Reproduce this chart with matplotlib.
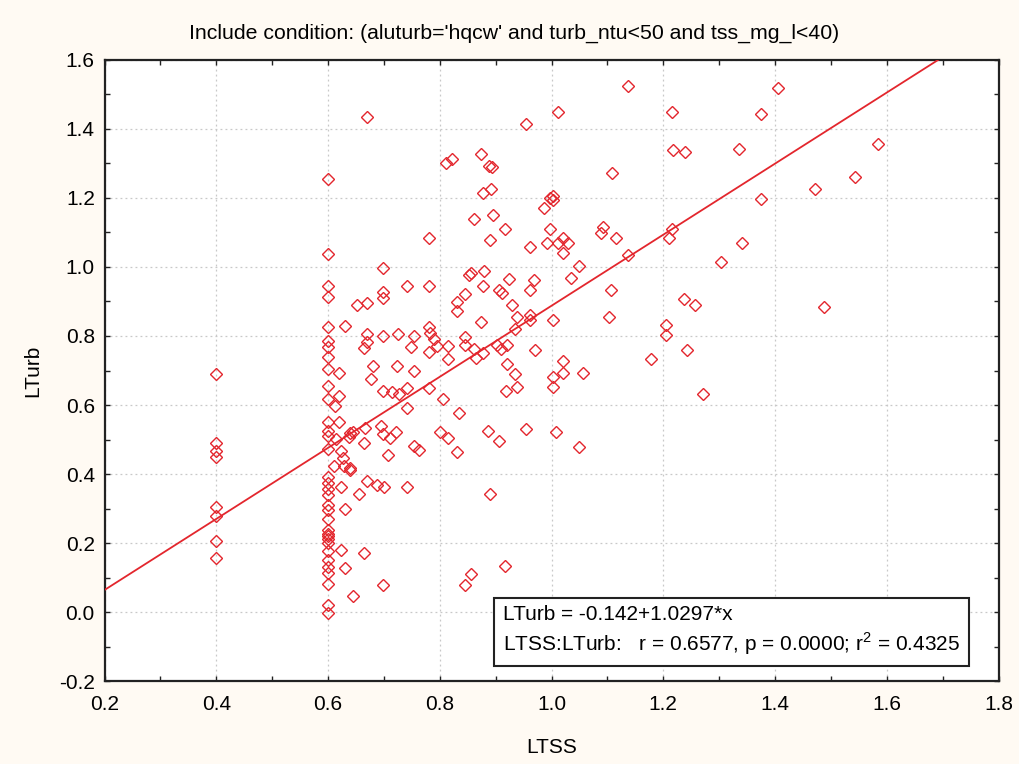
#!/usr/bin/env python3
"""
Scatterplot of LTurb against LTSS with the fitted regression line,
in the style of a STATISTICA graph window.
"""

import matplotlib
matplotlib.use("Agg")
import matplotlib.pyplot as plt
from matplotlib.ticker import MultipleLocator, FormatStrFormatter

# fitted model (from the graph legend)
INTERCEPT = -0.142
SLOPE = 1.0297

# samples sitting on the LTSS = 0.4 column
col04Tss = 0.4
col04Turb = [0.689, 0.491, 0.467, 0.448, 0.305, 0.278, 0.207, 0.156]

# samples sitting on the LTSS = 0.6 column
col06Tss = 0.6
col06Turb = [1.256, 1.039, 0.944, 0.914, 0.825, 0.786, 0.767, 0.740, 0.704,
             0.656, 0.617, 0.550, 0.526, 0.510, 0.473, 0.392, 0.373, 0.356,
             0.339, 0.310, 0.296, 0.270, 0.238, 0.226, 0.219, 0.211, 0.199,
             0.177, 0.151, 0.131, 0.112, 0.081, 0.020, -0.002]

# remaining samples
otherTss = [0.670, 0.699, 0.699, 0.699, 0.741, 0.780, 0.780, 0.652, 0.670, 0.630,
            0.619, 0.670, 0.670, 0.664, 0.699, 0.726, 0.754, 0.749, 0.780, 0.780,
            0.783, 0.789, 0.795, 0.814, 0.814, 0.680, 0.723, 0.754, 0.676,
            0.811, 0.821, 0.874, 0.888, 0.894, 0.892, 0.878,
            0.955, 0.862, 0.896, 0.917, 0.890, 0.961, 0.987, 0.998, 1.002, 0.992, 0.998,
            0.852, 0.856, 0.880, 0.924, 0.969, 0.878, 0.906, 0.912, 0.961, 0.846,
            0.830, 0.830, 0.930, 0.939, 0.961, 0.961, 0.934, 0.873, 0.846, 0.846,
            0.861, 0.865, 0.878, 0.903, 0.909, 0.921, 0.971, 0.921, 0.934,
            0.699, 0.715, 0.727, 0.741, 0.780, 0.620, 0.613, 0.741, 0.805, 0.834,
            0.918, 0.939, 0.620, 0.667, 0.694, 0.699, 0.711, 0.721, 0.664, 0.640,
            0.644, 0.637, 0.615, 0.624, 0.626, 0.610, 0.628, 0.639, 0.640, 0.708,
            0.754, 0.763, 0.801, 0.814, 0.830, 0.887, 0.906, 0.955, 0.623, 0.670,
            0.687, 0.700, 0.741, 0.655, 0.890, 0.630, 0.623, 0.664, 0.630, 0.699,
            0.644, 0.917, 0.855, 0.846,
            1.136, 1.011, 1.215, 1.406, 1.375, 1.218, 1.238, 1.335, 1.108, 1.002,
            1.375, 1.012, 1.021, 1.029, 1.021, 1.093, 1.089, 1.116, 1.136, 1.050,
            1.034, 1.215, 1.210, 1.341, 1.304, 1.106, 1.103, 1.002, 1.237, 1.256,
            1.205, 1.205, 1.243, 1.178, 1.021, 1.021, 1.056, 1.002, 1.002, 1.271,
            1.008, 1.050,
            1.585, 1.544, 1.472, 1.488]
otherTurb = [1.434, 0.997, 0.927, 0.911, 0.946, 0.946, 1.083, 0.890, 0.896, 0.830,
             0.694, 0.806, 0.784, 0.764, 0.800, 0.805, 0.800, 0.769, 0.827, 0.754,
             0.809, 0.791, 0.771, 0.771, 0.734, 0.714, 0.714, 0.698, 0.676,
             1.300, 1.312, 1.327, 1.293, 1.291, 1.226, 1.215,
             1.414, 1.139, 1.151, 1.109, 1.078, 1.058, 1.170, 1.201, 1.194, 1.069, 1.109,
             0.977, 0.983, 0.988, 0.966, 0.962, 0.946, 0.933, 0.925, 0.933, 0.921,
             0.898, 0.873, 0.891, 0.856, 0.862, 0.846, 0.821, 0.841, 0.796, 0.774,
             0.763, 0.735, 0.750, 0.774, 0.763, 0.774, 0.759, 0.719, 0.690,
             0.641, 0.639, 0.632, 0.648, 0.648, 0.627, 0.598, 0.592, 0.617, 0.576,
             0.641, 0.653, 0.552, 0.534, 0.539, 0.515, 0.503, 0.523, 0.491, 0.518,
             0.523, 0.508, 0.501, 0.468, 0.446, 0.423, 0.423, 0.418, 0.412, 0.455,
             0.481, 0.470, 0.523, 0.503, 0.465, 0.526, 0.496, 0.530, 0.363, 0.380,
             0.368, 0.363, 0.363, 0.342, 0.342, 0.298, 0.180, 0.170, 0.129, 0.078,
             0.047, 0.134, 0.110, 0.078,
             1.525, 1.448, 1.448, 1.520, 1.443, 1.338, 1.332, 1.342, 1.272, 1.207,
             1.196, 1.069, 1.085, 1.069, 1.040, 1.115, 1.098, 1.083, 1.035, 1.002,
             0.967, 1.110, 1.083, 1.069, 1.014, 0.933, 0.856, 0.846, 0.906, 0.891,
             0.831, 0.803, 0.759, 0.733, 0.728, 0.692, 0.692, 0.682, 0.653, 0.632,
             0.521, 0.479,
             1.357, 1.261, 1.226, 0.885]

xTicks = [0.2, 0.4, 0.6, 0.8, 1.0, 1.2, 1.4, 1.6, 1.8]
yTicks = [-0.2, 0.0, 0.2, 0.4, 0.6, 0.8, 1.0, 1.2, 1.4, 1.6]

TITLE = "Include condition: (aluturb='hqcw' and turb_ntu<50 and tss_mg_l<40)"
RED = "#e3262d"
PAPER = "#fffaf3"
FONT = ["Liberation Sans", "DejaVu Sans"]
NARROW = ["Liberation Sans Narrow", "Liberation Sans", "DejaVu Sans"]
LABEL_SIZE = 15

plt.rcParams["font.family"] = FONT


def collectPoints():
    """Merge the column samples and the scattered samples into two lists."""
    xs = [col04Tss] * len(col04Turb) + [col06Tss] * len(col06Turb) + otherTss
    ys = col04Turb + col06Turb + otherTurb
    return xs, ys


def styleAxes(ax):
    ax.set_xlim(xTicks[0], xTicks[-1])
    ax.set_ylim(yTicks[0], yTicks[-1])
    ax.set_xticks(xTicks)
    ax.set_yticks(yTicks)
    ax.xaxis.set_minor_locator(MultipleLocator(0.1))
    ax.yaxis.set_minor_locator(MultipleLocator(0.1))
    ax.xaxis.set_major_formatter(FormatStrFormatter("%.1f"))
    ax.yaxis.set_major_formatter(FormatStrFormatter("%.1f"))
    ax.tick_params(which="both", direction="in", top=True, right=True,
                   length=3.5, width=1.0, color="#222222")
    ax.tick_params(which="major", labelsize=LABEL_SIZE)
    ax.tick_params(axis="x", which="major", pad=10)
    ax.tick_params(axis="y", which="major", pad=7)
    ax.grid(True, which="major", linestyle=(0, (1.5, 2.5)), color="#c8c8c8",
            linewidth=0.9)
    ax.set_axisbelow(True)
    for spine in ax.spines.values():
        spine.set_linewidth(1.6)
        spine.set_color("#222222")


def plotScatter(outFile="out.png"):
    fig = plt.figure(figsize=(10.19, 7.64), dpi=100, facecolor=PAPER)
    ax = fig.add_axes([0.1026, 0.1086, 0.8773, 0.8129])
    ax.set_facecolor("white")

    xs, ys = collectPoints()
    ax.plot(xs, ys, linestyle="none", marker="D", markersize=6.0,
            markerfacecolor="none", markeredgecolor=RED,
            markeredgewidth=1.0, zorder=3)

    lineX = [xTicks[0], xTicks[-1]]
    lineY = [INTERCEPT + SLOPE * x for x in lineX]
    ax.plot(lineX, lineY, color=RED, linewidth=1.3, zorder=4)

    styleAxes(ax)

    ax.set_xlabel("LTSS", fontsize=LABEL_SIZE, labelpad=17)
    ax.set_ylabel("LTurb", fontsize=LABEL_SIZE, labelpad=12)

    fig.text(0.505, 0.956, TITLE, ha="center", va="center", fontsize=15.3,
             family=NARROW)

    legendText = ("LTurb = -0.142+1.0297*x\n"
                  "LTSS:LTurb:   r = 0.6577, p = 0.0000; "
                  "r$^{\\mathregular{2}}$ = 0.4325")
    ax.text(0.4457, 0.0805, legendText, transform=ax.transAxes,
            ha="left", va="center", fontsize=LABEL_SIZE, linespacing=1.35,
            zorder=6,
            bbox=dict(boxstyle="square,pad=0.42", facecolor="white",
                      edgecolor="#222222", linewidth=1.5))

    fig.savefig(outFile, dpi=100, facecolor=PAPER)


if __name__ == "__main__":
    plotScatter()
